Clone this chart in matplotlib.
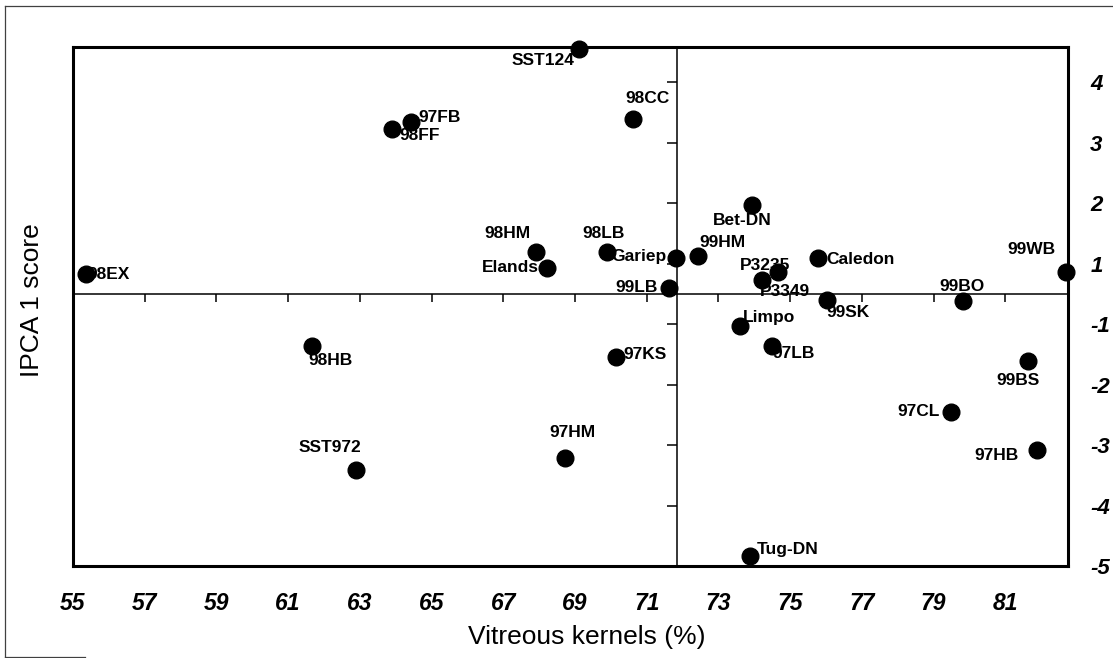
import numpy as np
import matplotlib
matplotlib.use("Agg")
from matplotlib import pyplot as plt
from matplotlib import markers
from matplotlib.lines import Line2D

plt.rcParams['font.family'] = ['Liberation Sans', 'DejaVu Sans']

# cultivar / locality scores (x = vitreous kernels %, y = position on the IPCA 1 axis,
# measured from the origin line; the axis is labelled without a zero)
names = ["98EX", "97FB", "98FF", "SST124", "98CC", "98HM", "Elands", "98LB",
         "Gariep", "99LB", "99HM", "Bet-DN", "P3235", "P3349", "Caledon", "99SK",
         "99BO", "99WB", "Limpo", "97LB", "99BS", "97CL", "97HB", "Tug-DN",
         "97KS", "97HM", "98HB", "SST972"]
vitreous = [55.36, 64.43, 63.90, 69.11, 70.62, 67.91, 68.22, 69.90,
            71.82, 71.62, 72.43, 73.94, 74.67, 74.22, 75.78, 76.03,
            79.83, 82.70, 73.60, 74.50, 81.64, 79.49, 81.89, 73.88,
            70.15, 68.72, 61.67, 62.89]
ipca1 = [0.33, 2.84, 2.72, 4.04, 2.89, 0.69, 0.43, 0.69,
         0.59, 0.10, 0.63, 1.47, 0.36, 0.23, 0.59, -0.10,
         -0.12, 0.36, -0.53, -0.86, -1.11, -1.95, -2.59, -4.34,
         -1.04, -2.72, -0.87, -2.92]

x_ticks = list(range(55, 83, 2))
y_tick_pos = [-4.5, -3.5, -2.5, -1.5, -0.5, 0.5, 1.5, 2.5, 3.5]
y_tick_labels = ["-5", "-4", "-3", "-2", "-1", "1", "2", "3", "4"]
x_origin = 71.84

# where each name sits relative to its dot (pixels, alignment)
label_place = {
    "98EX": (1, -1, "left"), "97FB": (7, 5, "left"), "98FF": (7, -6, "left"),
    "SST124": (-4, -11, "right"), "98CC": (14, 20, "center"),
    "98HM": (-28, 19, "center"), "Elands": (-8, 0, "right"),
    "98LB": (-4, 19, "center"), "Gariep": (-10, 2, "right"),
    "99LB": (-11, 0, "right"), "99HM": (1, 13, "left"),
    "Bet-DN": (-10, -16, "center"), "P3235": (-13, 7, "center"),
    "P3349": (-2, -12, "left"), "Caledon": (8, -1, "left"),
    "99SK": (-1, -13, "left"), "99BO": (-1, 15, "center"),
    "99WB": (-35, 23, "center"), "Limpo": (3, 8, "left"),
    "97LB": (0, -8, "left"), "99BS": (-10, -20, "center"),
    "97CL": (-11, 0, "right"), "97HB": (-19, -5, "right"),
    "Tug-DN": (7, 7, "left"), "97KS": (7, 2, "left"),
    "97HM": (7, 26, "center"), "98HB": (-4, -14, "left"),
    "SST972": (-26, 23, "center"),
}

fig = plt.figure(figsize=(11.13, 6.58), dpi=100)
ax = fig.add_axes([73/1113, 1 - 566/658, 995/1113, 519/658])
ax.set_xlim(55, 82.75)
ax.set_ylim(-4.5, 4.08)

for s in ax.spines.values():
    s.set_linewidth(2.2)

# origin cross lines with their own ticks
ax.axhline(0, color="k", lw=1.1, zorder=1)
ax.axvline(x_origin, color="k", lw=1.1, zorder=1)
ax.plot(x_ticks[1:], [0]*len(x_ticks[1:]), ls="none", marker=markers.TICKDOWN,
        ms=6, mew=1.1, color="k", zorder=1, clip_on=False)
ax.plot([x_origin]*len(y_tick_pos), y_tick_pos, ls="none", marker=markers.TICKLEFT,
        ms=7, mew=1.1, color="k", zorder=1, clip_on=False)

ax.plot(vitreous, ipca1, ls="none", marker="o", ms=12, color="k", zorder=3, clip_on=False)

for n, xv, yv in zip(names, vitreous, ipca1):
    dx, dy, ha = label_place[n]
    ax.annotate(n, (xv, yv), xytext=(dx, dy), textcoords="offset pixels",
                ha=ha, va="center", fontsize=12.5, fontweight="bold", zorder=4)

ax.set_xticks(x_ticks)
ax.set_xticklabels([str(v) for v in x_ticks], fontsize=16.5, style="italic",
                   fontweight="bold")
ax.yaxis.tick_right()
ax.set_yticks(y_tick_pos)
ax.set_yticklabels(y_tick_labels, fontsize=16, style="italic", fontweight="bold")
ax.tick_params(axis="x", length=0, pad=19)
ax.tick_params(axis="y", length=0, pad=16)

fig.text(587/1113, 1 - 637/658, "Vitreous kernels (%)", fontsize=19,
         ha="center", va="center")
fig.text(32/1113, 1 - 300/658, "IPCA 1 score", fontsize=19, rotation=90,
         ha="center", va="center")

# thin outer border of the figure panel
fig.add_artist(Line2D([5/1113, 5/1113], [0, 1 - 6/658], color="0.25", lw=0.9))
fig.add_artist(Line2D([5/1113, 1], [1 - 6/658, 1 - 6/658], color="0.25", lw=0.9))
fig.add_artist(Line2D([5/1113, 85/1113], [1 - 657/658, 1 - 657/658], color="0.25", lw=0.9))

fig.savefig("out.png", dpi=100)
